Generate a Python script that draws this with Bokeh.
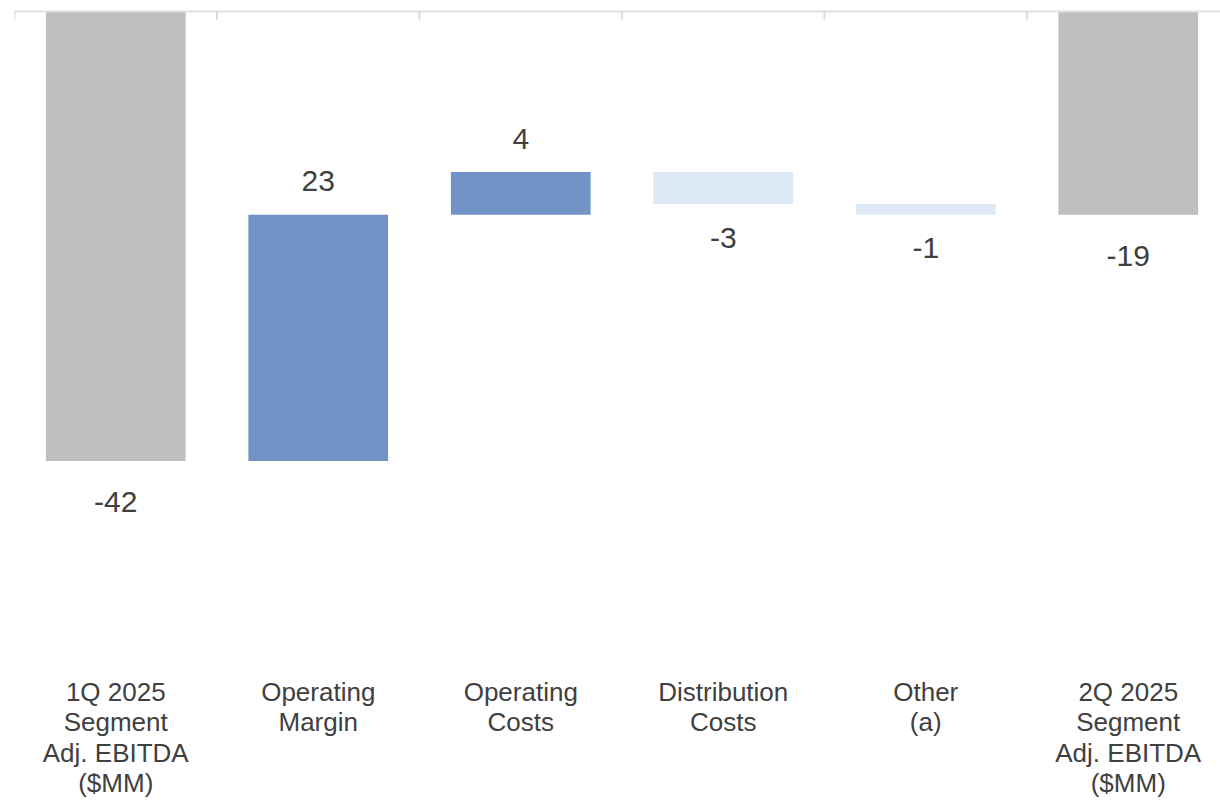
from bokeh.plotting import figure
from bokeh.models import ColumnDataSource, Range1d, FixedTicker, Span
from bokeh.core.properties import value
from bokeh.embed import file_html
from bokeh.resources import INLINE

categories = ["1Q 2025\nSegment\nAdj. EBITDA\n($MM)", "Operating\nMargin", "Operating\nCosts",
              "Distribution\nCosts", "Other\n(a)", "2Q 2025\nSegment\nAdj. EBITDA\n($MM)"]
values = [-42, 23, 4, -3, -1, -19]
kinds = ["total", "increase", "increase", "decrease", "decrease", "total"]

colors = {"total": "#BFBFBF", "increase": "#7193C6", "decrease": "#DDEAF6"}
FONT = "Liberation Sans"
TEXT_COLOR = "#404040"
PX_PER_UNIT = 10.7
TOP_PX = 11
FRAME_H = 672

xs, bottoms, tops, fills, label_y, labels = [], [], [], [], [], []
running = 0
for i, (v, k) in enumerate(zip(values, kinds)):
    if k == "total":
        start, end = 0, v
        running = v
    else:
        start, end = running, running + v
        running = end
    lo, hi = min(start, end), max(start, end)
    xs.append(i)
    bottoms.append(lo)
    tops.append(hi)
    fills.append(colors[k])
    gap = 41 if k == "total" else 33.5
    if v < 0:
        label_y.append(lo - gap / PX_PER_UNIT)
    else:
        label_y.append(hi + gap / PX_PER_UNIT)
    labels.append(str(v))

src = ColumnDataSource(dict(x=xs, bottom=bottoms, top=tops, fill=fills, ly=label_y, label=labels))

y_end = TOP_PX / PX_PER_UNIT
p = figure(frame_width=1206, frame_height=FRAME_H,
           x_range=Range1d(-0.5, -0.5 + 1206 / 202.5),
           y_range=Range1d(y_end - FRAME_H / PX_PER_UNIT, y_end),
           output_backend="svg", toolbar_location=None,
           y_axis_location=None, x_axis_location="below",
           min_border_left=14, min_border_right=0, min_border_top=0, min_border_bottom=0)
p.outline_line_color = None
p.xgrid.visible = False
p.ygrid.visible = False
p.background_fill_color = "white"
p.border_fill_color = "white"

p.vbar(x="x", bottom="bottom", top="top", width=0.69, fill_color="fill", line_color=None, source=src)

# zero line with category boundary ticks
p.add_layout(Span(location=0, dimension="width", line_color="#E0E0E0", line_width=2))
bounds = [i - 0.5 for i in range(len(categories) + 1)]
p.segment(x0=bounds, x1=bounds, y0=[0] * len(bounds), y1=[-8 / PX_PER_UNIT] * len(bounds),
          line_color="#DADADA", line_width=2)

p.text(x="x", y="ly", text="label", source=src, text_align="center", text_baseline="middle",
       text_font=value(FONT), text_font_size="30px", text_color=TEXT_COLOR)

xa = p.xaxis[0]
xa.ticker = FixedTicker(ticks=list(range(len(categories))))
xa.major_label_overrides = {i: c for i, c in enumerate(categories)}
xa.axis_line_color = None
xa.major_tick_line_color = None
xa.minor_tick_line_color = None
xa.major_tick_in = 0
xa.major_tick_out = 0
xa.major_label_standoff = 4
xa.major_label_text_font = FONT
xa.major_label_text_font_size = "26px"
xa.major_label_text_color = TEXT_COLOR
xa.major_label_text_line_height = 1.02

open("out.html", "w").write(file_html(p, INLINE))
